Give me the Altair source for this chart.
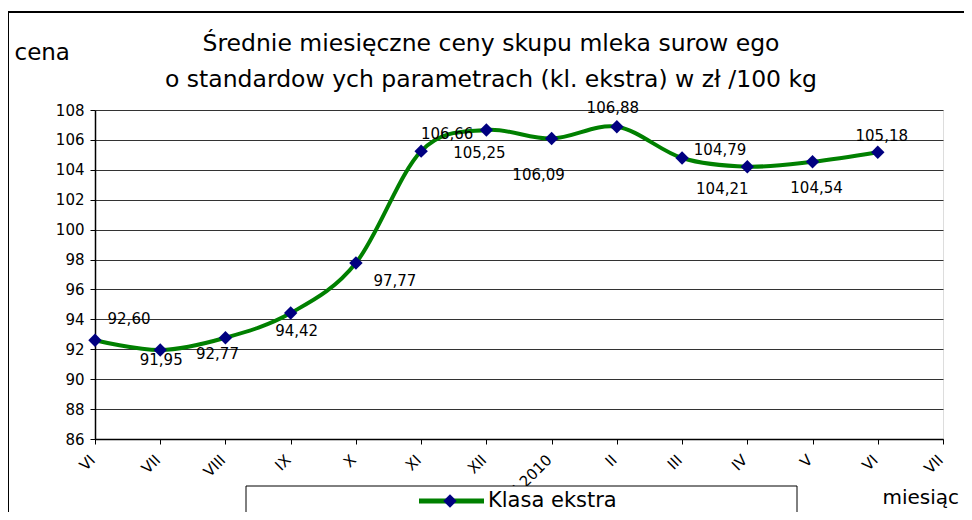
import json
import altair as alt
import pandas as pd

# ---- data ----
months = ["VI", "VII", "VIII", "IX", "X", "XI", "XII", "I 2010", "II", "III", "IV", "V", "VI", "VII"]
prices = [92.60, 91.95, 92.77, 94.42, 97.77, 105.25, 106.66, 106.09, 106.88, 104.79, 104.21, 104.54, 105.18]
point_labels = ["92,60", "91,95", "92,77", "94,42", "97,77", "106,66", "105,25",
                "106,09", "106,88", "104,79", "104,21", "104,54", "105,18"]
y_ticks = list(range(86, 109, 2))
series_name = ["Klasa ekstra"]
title_lines = ["Średnie miesięczne ceny skupu mleka surow ego",
               "o standardow ych parametrach (kl. ekstra) w  zł /100 kg"]

FONT = "DejaVu Sans"
GREEN = "#008000"
NAVY = "#000080"

df = pd.DataFrame({
    "idx": list(range(len(prices))),
    "month": months[:len(prices)],
    "price": prices,
    "label": point_labels,
})
legend_df = pd.DataFrame({"name": series_name})

label_expr = json.dumps(months) + "[datum.value]"

x_enc = alt.X(
    "idx:Q",
    scale=alt.Scale(domain=[0, len(months) - 1], nice=False, zero=False),
    axis=alt.Axis(
        values=list(range(len(months))),
        labelExpr=label_expr,
        title="miesiąc",
        titleAngle=0, titleX=787, titleY=58, titleAlign="left", titleBaseline="middle",
        titleFontSize=20, titleFontWeight="normal", titleFont=FONT, titleColor="black",
        labelAngle=-45, labelAlign="right", labelBaseline="middle", labelPadding=13,
        labelOffset=-3,
        labelFontSize=15, labelFont=FONT, labelColor="black",
        labelOverlap=False, labelFlush=False,
        tickSize=5, tickColor="black", domainColor="black", domainWidth=1.5,
        grid=False,
    ),
)
y_enc = alt.Y(
    "price:Q",
    scale=alt.Scale(domain=[86, 108], nice=False, zero=False),
    axis=alt.Axis(
        values=y_ticks,
        title="cena",
        titleAngle=0, titleX=-81, titleY=-58, titleAlign="left", titleBaseline="middle",
        titleFontSize=23, titleFontWeight="normal", titleFont=FONT, titleColor="black",
        labelFontSize=15, labelFont=FONT, labelColor="black", labelPadding=6,
        labelFlush=False,
        tickSize=5, tickColor="black", domainColor="black", domainWidth=1.5,
        grid=True, gridColor="#333333", gridWidth=1,
    ),
)

base = alt.Chart(df).encode(x=x_enc, y=y_enc)

line = base.mark_line(color=GREEN, strokeWidth=4, interpolate="cardinal")
points = base.mark_point(shape="diamond", filled=True, color=NAVY, size=180, opacity=1)


def value_label(i, dx, dy):
    return base.mark_text(
        dx=dx, dy=dy, fontSize=15, font=FONT, color="black", baseline="middle", align="center"
    ).encode(text="label:N").transform_filter(alt.datum.idx == i)


labels = [
    value_label(0, 34, -21),
    value_label(1, 1, 10),
    value_label(2, -8, 16),
    value_label(3, 6, 18),
    value_label(4, 39, 18),
    value_label(5, 26, -17),
    value_label(6, -7, 23),
    value_label(7, -13, 36),
    value_label(8, -4, -19),
    value_label(9, 38, -8),
    value_label(10, -25, 22),
    value_label(11, 4, 26),
    value_label(12, 4, -16),
]

# outer chart-area frame
frame = alt.Chart(legend_df).mark_rect(fillOpacity=0, stroke="black", strokeWidth=2).encode(
    x=alt.value(-87), x2=alt.value(900), y=alt.value(-98), y2=alt.value(450)
)

# legend box (drawn like the spreadsheet legend)
leg_box = alt.Chart(legend_df).mark_rect(fill="white", stroke="black", strokeWidth=1).encode(
    x=alt.value(151), x2=alt.value(702), y=alt.value(376), y2=alt.value(440)
)
leg_line = alt.Chart(legend_df).mark_rule(color=GREEN, strokeWidth=5).encode(
    x=alt.value(324), x2=alt.value(389), y=alt.value(391)
)
leg_pt = alt.Chart(legend_df).mark_point(shape="diamond", filled=True, color=NAVY, size=180, opacity=1).encode(
    x=alt.value(355), y=alt.value(391)
)
leg_text = alt.Chart(legend_df).mark_text(
    align="left", baseline="middle", fontSize=21, font=FONT, color="black"
).encode(x=alt.value(393), y=alt.value(391), text="name:N")

chart = alt.layer(
    line, points, *labels, frame, leg_box, leg_line, leg_pt, leg_text
).properties(
    width=848,
    height=329,
    title=alt.TitleParams(
        text=title_lines, fontSize=23.5, font=FONT, fontWeight="normal", color="black",
        anchor="middle", frame="group", dx=-28, dy=80, offset=0, lineHeight=36,
    ),
    autosize=alt.AutoSizeParams(type="none"),
    padding={"left": 87, "top": 102, "right": 21, "bottom": 73},
).configure_view(
    fill="#FFFF99", stroke="#808080", strokeWidth=1.5
).configure(background="white")

chart.save("out.html", embed_options={"renderer": "svg", "actions": False})
